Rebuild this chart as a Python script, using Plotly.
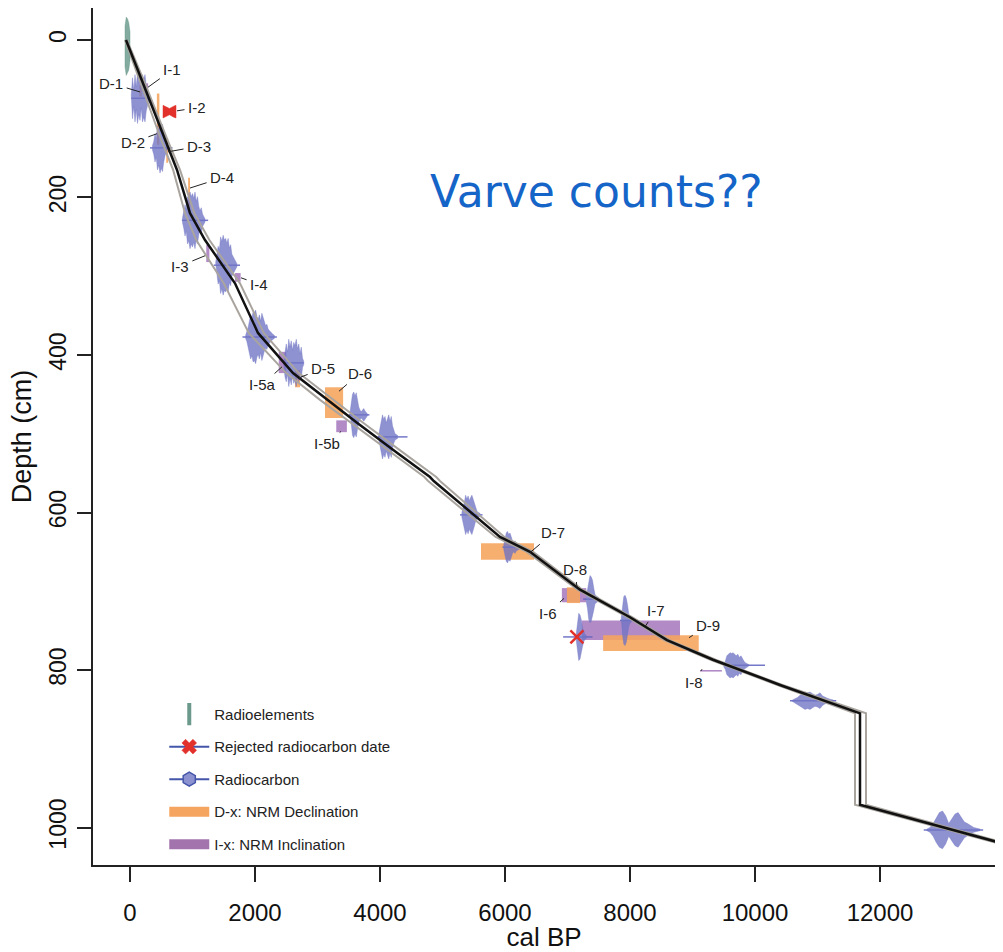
import plotly.graph_objects as go

# ---------------- Age-depth model ----------------
model_depth = [0, 55, 127, 165, 220, 254, 309, 372, 423, 457, 486, 524, 555, 560,
               631, 650, 698, 733, 762, 787, 819, 855, 971, 1020]
model_age_median = [-64, 208, 560, 752, 960, 1200, 1680, 2048, 2608, 3152, 3632, 4272, 4800, 4860,
                    5920, 6400, 7200, 8000, 8592, 9328, 10400, 11680, 11680, 13950]
model_age_min = [-80, 170, 500, 690, 880, 1060, 1500, 1900, 2500, 3040, 3530, 4180, 4710, 4770,
                 5850, 6350, 7160, 7960, 8550, 9290, 10360, 11600, 11600, 13890]
model_age_max = [-50, 240, 600, 800, 1030, 1270, 1760, 2140, 2700, 3250, 3730, 4370, 4900, 4960,
                 5990, 6450, 7240, 8040, 8630, 9370, 10440, 11776, 11776, 14010]

# ---------------- Radiocarbon dates (calibrated distributions) ----------------
rc_depth = [74, 137, 229, 286, 377, 410, 476, 504, 603, 644, 710, 737, 794, 839, 1003]
rc_err_lo = [20, 320, 830, 1340, 1800, 2480, 3500, 3960, 5280, 5960, 7250, 7840, 9520, 10560, 12700]
rc_err_hi = [300, 680, 1250, 1760, 2350, 2780, 3830, 4440, 5640, 6260, 7500, 8060, 10160, 11300, 13650]
rc_ages = [
    [20, 40, 60, 80, 100, 120, 140, 160, 180, 200, 220, 240, 260, 280, 300],
    [360, 380, 400, 420, 440, 460, 480, 500, 520, 540, 560, 580, 600],
    [840, 860, 880, 900, 920, 940, 960, 980, 1000, 1020, 1040, 1060, 1080, 1100, 1120, 1140, 1160, 1180, 1200],
    [1370, 1390, 1410, 1430, 1450, 1470, 1490, 1510, 1530, 1550, 1570, 1590, 1610, 1630, 1650, 1670, 1690, 1710],
    [1850, 1870, 1890, 1910, 1930, 1950, 1970, 1990, 2010, 2030, 2050, 2070, 2090, 2110, 2130, 2150,
     2170, 2190, 2210, 2230, 2250, 2270, 2290, 2310],
    [2460, 2480, 2500, 2520, 2540, 2560, 2580, 2600, 2620, 2640, 2660, 2680, 2700, 2720, 2740, 2760, 2780],
    [3520, 3540, 3560, 3580, 3600, 3620, 3640, 3660, 3680, 3700, 3720, 3740, 3760, 3780, 3800],
    [3980, 4000, 4020, 4040, 4060, 4080, 4100, 4120, 4140, 4160, 4180, 4200, 4220, 4240, 4260, 4280],
    [5310, 5330, 5350, 5370, 5390, 5410, 5430, 5450, 5470, 5490, 5510, 5530, 5550, 5570, 5600],
    [5980, 6000, 6020, 6040, 6060, 6080, 6100, 6120, 6140, 6160, 6180, 6200, 6220, 6240],
    [7300, 7320, 7340, 7360, 7380, 7400, 7420, 7440, 7460, 7480, 7500],
    [7860, 7880, 7900, 7920, 7940, 7960, 7980, 8000, 8020],
    [9500, 9525, 9550, 9575, 9600, 9625, 9650, 9675, 9700, 9725, 9750, 9775, 9800, 9825, 9850, 9875, 9900],
    [10600, 10640, 10680, 10720, 10760, 10800, 10840, 10880, 10920, 10960, 11000, 11040, 11080, 11120,
     11160, 11200, 11250],
    [12750, 12800, 12850, 12900, 12950, 13000, 13050, 13100, 13150, 13200, 13250, 13300, 13350, 13400,
     13450, 13500, 13550, 13600],
]
rc_half = [
    [4, 26, 10, 30, 14, 32, 20, 28, 12, 30, 24, 30, 16, 8, 3],
    [3, 8, 18, 12, 28, 22, 32, 26, 30, 18, 10, 6, 2],
    [3, 10, 20, 14, 30, 26, 36, 30, 34, 28, 36, 24, 30, 18, 12, 16, 8, 5, 2],
    [3, 12, 24, 20, 36, 30, 38, 32, 34, 28, 34, 22, 26, 14, 10, 8, 5, 2],
    [2, 6, 12, 20, 28, 24, 32, 30, 34, 26, 22, 28, 20, 30, 24, 18, 14, 16, 10, 8, 6, 4, 3, 2],
    [3, 18, 24, 14, 30, 20, 28, 16, 26, 22, 30, 18, 24, 12, 20, 6, 2],
    [3, 14, 26, 29, 24, 28, 18, 10, 6, 4, 6, 8, 5, 3, 1],
    [3, 10, 20, 28, 22, 26, 18, 24, 28, 20, 26, 14, 8, 4, 3, 2],
    [3, 8, 16, 25, 20, 24, 18, 22, 25, 20, 14, 8, 5, 3, 2],
    [3, 10, 18, 20, 16, 18, 12, 8, 6, 8, 5, 4, 3, 2],
    [3, 12, 26, 30, 28, 24, 14, 6, 4, 3, 2],
    [3, 18, 30, 32, 28, 20, 8, 4, 2],
    [2, 5, 12, 14, 16, 15, 16, 14, 12, 14, 10, 12, 8, 5, 3, 2, 1],
    [1, 2, 4, 7, 9, 11, 10, 11, 9, 7, 8, 10, 6, 4, 3, 2, 1],
    [1, 3, 8, 16, 22, 24, 18, 8, 14, 20, 22, 16, 10, 8, 5, 3, 2, 1],
]

# Rejected radiocarbon date
rej_depth = 758
rej_age = 7150
rej_err_lo = 6930
rej_err_hi = 7400
rej_ages = [7140, 7160, 7180, 7200, 7220, 7240, 7260, 7280, 7300]
rej_half = [4, 20, 30, 28, 22, 12, 6, 3, 2]

# Radioelements (210Pb / 137Cs)
re_depth = 8
re_ages = [-80, -60, -40, -20, 0]
re_half = [26, 37, 35, 30, 18]

# I-2 (red) feature
i2_depth = 91
i2_ages = [528, 560, 632, 700, 736]
i2_half = [8, 7, 4, 7, 8]

# ---------------- NRM palaeomagnetic tie points ----------------
dec_labels = ["D-1", "D-2", "D-3", "D-4", "D-5", "D-6", "D-7", "D-8", "D-9"]
dec_age_min = [150, 430, 580, 930, 2640, 3120, 5616, 6990, 7570]
dec_age_max = [190, 470, 610, 960, 2720, 3410, 6464, 7200, 9100]
dec_depth_top = [57, 68, 125, 175, 419, 441, 639, 695, 756]
dec_depth_bot = [72, 133, 156, 216, 441, 480, 660, 715, 776]

inc_labels = ["I-1", "I-3", "I-4", "I-5a", "I-5b", "I-6", "I-7", "I-8"]
inc_age_min = [260, 1220, 1680, 2380, 3300, 6910, 7230, 9120]
inc_age_max = [290, 1270, 1770, 2500, 3470, 7300, 8800, 9470]
inc_depth_top = [55, 260, 296, 396, 483, 696, 737, 800]
inc_depth_bot = [66, 282, 307, 423, 498, 714, 762, 802]

# Label positions (text) and leader-line targets
lab_text = ["D-1", "I-1", "I-2", "D-2", "D-3", "D-4", "I-3", "I-4", "I-5a", "D-5", "D-6",
            "I-5b", "D-7", "D-8", "I-6", "I-7", "D-9", "I-8"]
lab_age = [-300, 672, 1072, 48, 1104, 1472, 800, 2064, 2112, 3088, 3680,
           3152, 6768, 7120, 6688, 8416, 9248, 9024]
lab_depth = [55, 38, 86, 130, 135, 175, 287, 310, 438, 417, 423,
             513, 626, 673, 728, 724, 743, 816]
lab_pt_age = [160, 288, 752, 432, 608, 960, 1200, 1776, 2432, 2704, 3344,
              3376, 6400, 7152, 6944, 8240, 8944, 9152]
lab_pt_depth = [66, 60, 90, 119, 142, 188, 274, 302, 415, 429, 446,
                497, 651, 695, 709, 745, 759, 799]

x_ticks = [0, 2000, 4000, 6000, 8000, 10000, 12000]
y_ticks = [0, 200, 400, 600, 800, 1000]

# ---------------- Styles ----------------
BLUE_FILL = "rgba(112,115,196,0.78)"
BLUE_LINE = "rgba(100,104,194,0.9)"
GREEN = "rgba(100,150,135,0.8)"
RED = "#e2312b"
ORANGE = "rgba(246,164,92,0.88)"
PURPLE = "rgba(160,112,186,0.82)"
FONT = "Liberation Sans, Arial, sans-serif"

fig = go.Figure()


def dist_polygon(ages, half, depth):
    xs = list(ages) + list(ages)[::-1] + [ages[0]]
    ys = [depth - h for h in half] + [depth + h for h in half][::-1] + [depth - half[0]]
    return xs, ys


def rect(a0, a1, d0, d1):
    return [a0, a1, a1, a0, a0], [d0, d0, d1, d1, d0]


# Inclination rectangles
for a0, a1, d0, d1 in zip(inc_age_min, inc_age_max, inc_depth_top, inc_depth_bot):
    xs, ys = rect(a0, a1, d0, d1)
    fig.add_trace(go.Scatter(x=xs, y=ys, mode="lines", fill="toself", fillcolor=PURPLE,
                             line=dict(width=0), showlegend=False, hoverinfo="skip"))
# Declination rectangles
for a0, a1, d0, d1 in zip(dec_age_min, dec_age_max, dec_depth_top, dec_depth_bot):
    xs, ys = rect(a0, a1, d0, d1)
    fig.add_trace(go.Scatter(x=xs, y=ys, mode="lines", fill="toself", fillcolor=ORANGE,
                             line=dict(width=0), showlegend=False, hoverinfo="skip"))

# Radiocarbon distributions + error lines
for d, lo, hi, ages, half in zip(rc_depth, rc_err_lo, rc_err_hi, rc_ages, rc_half):
    fig.add_trace(go.Scatter(x=[lo, hi], y=[d, d], mode="lines",
                             line=dict(color=BLUE_LINE, width=1.5),
                             showlegend=False, hoverinfo="skip"))
    xs, ys = dist_polygon(ages, half, d)
    fig.add_trace(go.Scatter(x=xs, y=ys, mode="lines", fill="toself", fillcolor=BLUE_FILL,
                             line=dict(width=0.5, color=BLUE_FILL),
                             showlegend=False, hoverinfo="skip"))

# Rejected date
fig.add_trace(go.Scatter(x=[rej_err_lo, rej_err_hi], y=[rej_depth, rej_depth], mode="lines",
                         line=dict(color=BLUE_LINE, width=1.5), showlegend=False, hoverinfo="skip"))
xs, ys = dist_polygon(rej_ages, rej_half, rej_depth)
fig.add_trace(go.Scatter(x=xs, y=ys, mode="lines", fill="toself", fillcolor=BLUE_FILL,
                         line=dict(width=0.5, color=BLUE_FILL), showlegend=False, hoverinfo="skip"))
fig.add_trace(go.Scatter(x=[rej_age], y=[rej_depth], mode="markers",
                         marker=dict(symbol="x-thin", size=13, line=dict(color=RED, width=2.5)),
                         showlegend=False, hoverinfo="skip"))

# I-2 red feature
xs, ys = dist_polygon(i2_ages, i2_half, i2_depth)
fig.add_trace(go.Scatter(x=xs, y=ys, mode="lines", fill="toself", fillcolor=RED,
                         line=dict(width=0.5, color=RED), showlegend=False, hoverinfo="skip"))

# Radioelements
xs, ys = dist_polygon(re_ages, re_half, re_depth)
fig.add_trace(go.Scatter(x=xs, y=ys, mode="lines", fill="toself", fillcolor=GREEN,
                         line=dict(width=0.5, color=GREEN), showlegend=False, hoverinfo="skip"))

# Model envelope and median
for arr in (model_age_min, model_age_max):
    fig.add_trace(go.Scatter(x=arr, y=model_depth, mode="lines",
                             line=dict(color="#a9a49e", width=2),
                             showlegend=False, hoverinfo="skip"))
fig.add_trace(go.Scatter(x=model_age_median, y=model_depth, mode="lines",
                         line=dict(color="#111111", width=2.5),
                         showlegend=False, hoverinfo="skip"))

# ---------------- Legend entries ----------------
fig.add_trace(go.Scatter(x=[None], y=[None], mode="markers", name="Radioelements",
                         legendgroup="a",
                         marker=dict(symbol="line-ns-open", size=26, color="#6b9a8c",
                                     line=dict(color="#6b9a8c", width=4))))
fig.add_trace(go.Scatter(x=[None], y=[None], mode="lines+markers", name="Rejected radiocarbon date",
                         legendgroup="b",
                         line=dict(color="#4456aa", width=2),
                         marker=dict(symbol="x", size=13, color=RED,
                                     line=dict(color=RED, width=0.5))))
fig.add_trace(go.Scatter(x=[None], y=[None], mode="lines+markers", name="Radiocarbon",
                         legendgroup="c",
                         line=dict(color="#4456aa", width=2),
                         marker=dict(symbol="hexagon", size=14, color="#8c91cf",
                                     line=dict(color="#4456aa", width=1.5))))
fig.add_trace(go.Scatter(x=[None], y=[None], mode="lines", name="D-x: NRM Declination",
                         legendgroup="d", line=dict(color="#f6a560", width=14)))
fig.add_trace(go.Scatter(x=[None], y=[None], mode="lines", name="I-x: NRM Inclination",
                         legendgroup="e", line=dict(color="#a373ae", width=14)))

# ---------------- Labels ----------------
annotations = []
for t, ax_, ay_, px, py in zip(lab_text, lab_age, lab_depth, lab_pt_age, lab_pt_depth):
    annotations.append(dict(x=px, y=py, ax=ax_, ay=ay_, xref="x", yref="y", axref="x", ayref="y",
                            text=t, showarrow=True, arrowhead=0, arrowwidth=1, arrowcolor="#222",
                            standoff=0, startstandoff=2,
                            font=dict(family=FONT, size=15, color="#222")))
annotations.append(dict(x=7470, y=192, xref="x", yref="y", text="Varve counts??", showarrow=False,
                        font=dict(family="DejaVu Sans, sans-serif", size=44, color="#1565c8")))

fig.update_layout(
    width=1003, height=952,
    margin=dict(l=93, r=8, t=8, b=87),
    paper_bgcolor="white", plot_bgcolor="white",
    font=dict(family=FONT, color="#111"),
    showlegend=True,
    legend=dict(x=0.079, y=0.195, xanchor="left", yanchor="top", bgcolor="rgba(0,0,0,0)",
                font=dict(family=FONT, size=15, color="#222"),
                traceorder="grouped", tracegroupgap=10, itemwidth=40),
    annotations=annotations,
    xaxis=dict(range=[-592, 13840], tickvals=x_ticks, ticktext=[str(v) for v in x_ticks],
               automargin=False,
               showgrid=False, zeroline=False, showline=True, linecolor="#222", linewidth=1.5,
               ticks="outside", ticklen=15, tickwidth=1.5, tickcolor="#222", ticklabelstandoff=10,
               tickfont=dict(family=FONT, size=24, color="#111"),
               title=dict(text="cal BP", font=dict(family=FONT, size=26, color="#111"), standoff=7)),
    yaxis=dict(range=[1047.6, -40.6], tickvals=y_ticks, ticktext=[str(v) for v in y_ticks],
               automargin=False,
               showgrid=False, zeroline=False, showline=True, linecolor="#222", linewidth=1.5,
               ticks="outside", ticklen=14, tickwidth=1.5, tickcolor="#222", tickangle=-90,
               ticklabelstandoff=2,
               tickfont=dict(family=FONT, size=23, color="#111"),
               title=dict(text="Depth (cm)", font=dict(family=FONT, size=27, color="#111"), standoff=6)),
)

fig.write_html("out.html", config={"displayModeBar": False},
               post_script="document.body.style.margin='0';")
